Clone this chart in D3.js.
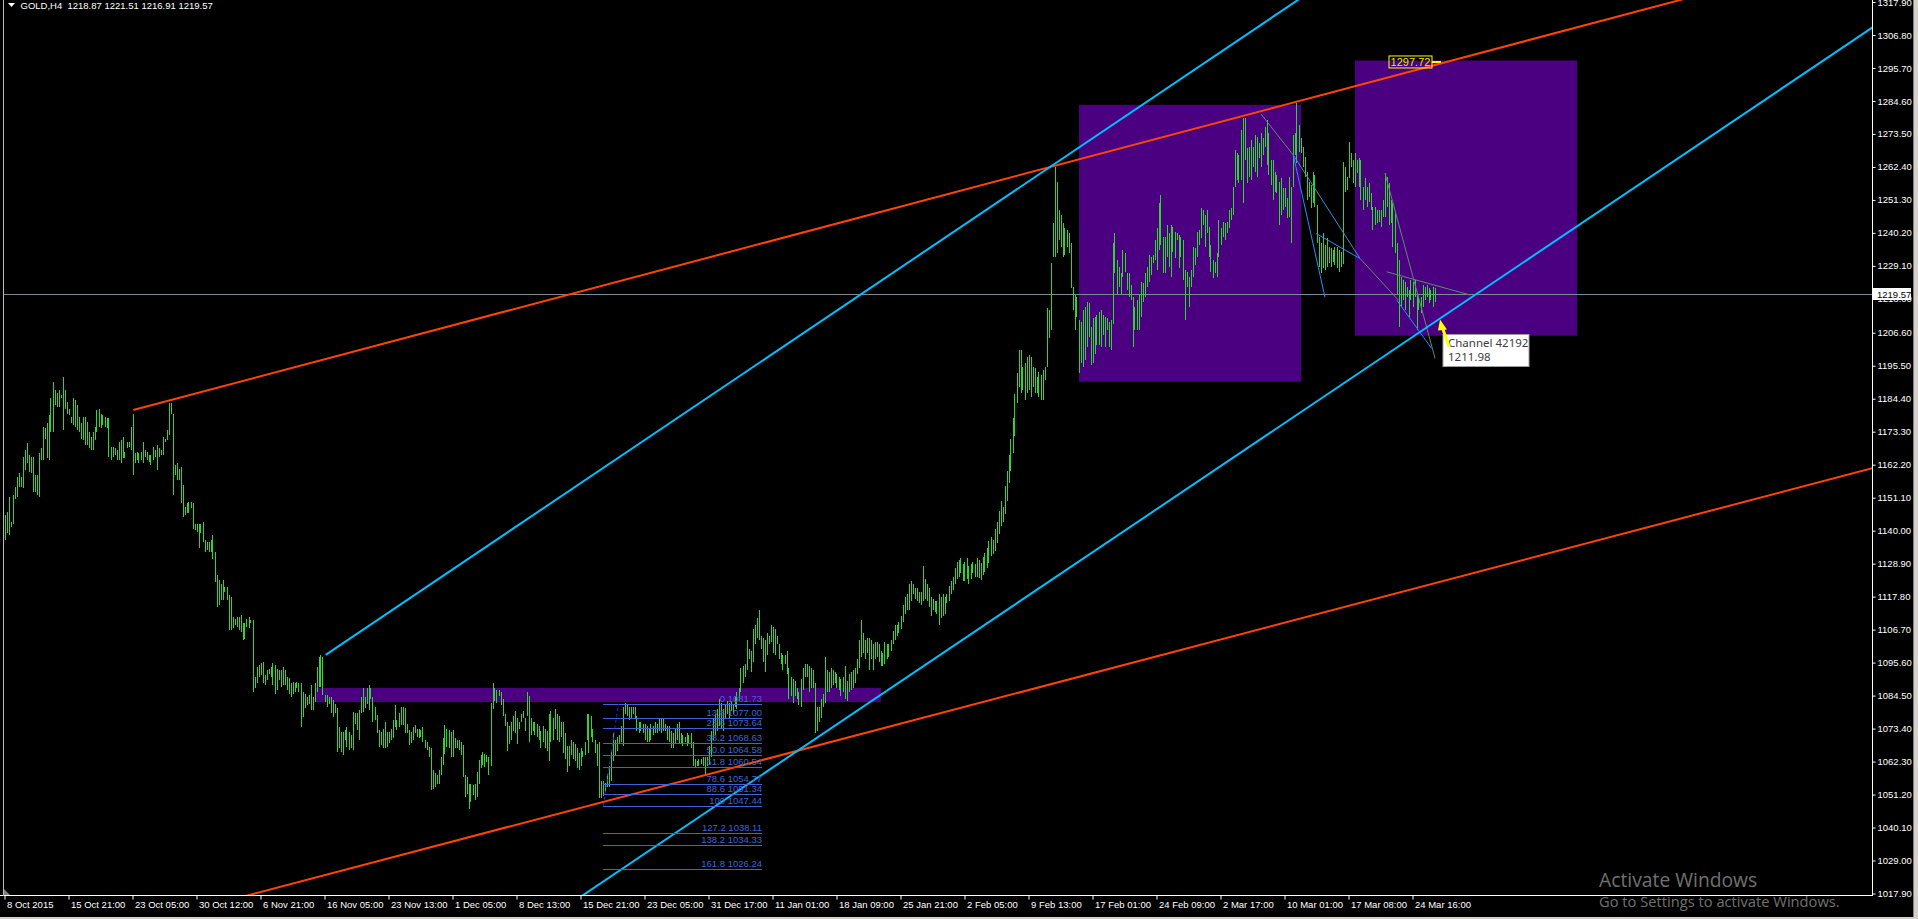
<!DOCTYPE html>
<html><head><meta charset="utf-8">
<script src="https://cdn.jsdelivr.net/npm/d3@7"></script>
<style>
html,body{margin:0;padding:0;background:#000;overflow:hidden}
svg{display:block}
</style></head><body>
<svg id="c" width="1918" height="919"></svg>
<script>
// ---------------- DATA ----------------
const chartTitle = "GOLD,H4  1218.87 1221.51 1216.91 1219.57";
const lastPrice = 1219.57;

const dateLabels = ["8 Oct 2015","15 Oct 21:00","23 Oct 05:00","30 Oct 12:00","6 Nov 21:00","16 Nov 05:00",
  "23 Nov 13:00","1 Dec 05:00","8 Dec 13:00","15 Dec 21:00","23 Dec 05:00","31 Dec 17:00","11 Jan 01:00",
  "18 Jan 09:00","25 Jan 21:00","2 Feb 05:00","9 Feb 13:00","17 Feb 01:00","24 Feb 09:00","2 Mar 17:00",
  "10 Mar 01:00","17 Mar 08:00","24 Mar 16:00"];
const dateTickBars = [0,32,64,96,128,160,192,224,256,288,320,352,384,416,448,480,512,544,576,608,640,672,704];

const priceTicks = [1317.90,1306.80,1295.70,1284.60,1273.50,1262.40,1251.30,1240.20,1229.10,1218.00,
  1206.60,1195.50,1184.40,1173.30,1162.20,1151.10,1140.00,1128.90,1117.80,1106.70,1095.60,1084.50,
  1073.40,1062.30,1051.20,1040.10,1029.00,1017.90];

// H4 bars: high / low
const barHigh = [
1145.3,1146.4,1151.4,1143.0,1152.0,1154.8,1158.1,1159.3,1158.1,1164.9,
1167.1,1169.4,1165.4,1164.9,1164.9,1158.7,1158.7,1166.0,1167.7,1175.0,
1174.4,1176.1,1178.9,1184.5,1190.1,1187.3,1186.2,1187.3,1185.6,1191.8,
1187.3,1183.4,1181.1,1178.3,1184.5,1184.0,1182.3,1178.3,1176.1,1178.3,
1178.3,1176.6,1173.3,1171.6,1173.3,1175.0,1180.6,1181.1,1179.4,1178.9,
1178.3,1177.8,1177.8,1168.2,1168.2,1167.7,1167.1,1169.9,1170.5,1171.6,
1166.5,1169.9,1169.9,1175.0,1179.4,1166.0,1166.5,1166.0,1166.5,1169.9,
1167.1,1166.5,1165.4,1165.4,1168.2,1167.1,1168.8,1167.7,1167.1,1171.6,
1171.0,1173.8,1182.8,1182.8,1179.4,1162.1,1162.6,1160.9,1161.5,1155.3,
1148.0,1149.2,1149.7,1149.7,1149.2,1142.4,1142.4,1142.4,1142.4,1143.0,
1136.8,1136.3,1136.3,1136.8,1138.5,1132.9,1125.0,1123.4,1122.2,1123.4,
1121.1,1121.1,1118.3,1117.7,1111.0,1110.4,1111.0,1111.0,1111.6,1108.8,
1108.8,1110.4,1111.0,1109.9,1109.9,1090.8,1094.2,1094.7,1095.3,1095.9,
1091.4,1093.1,1093.6,1094.2,1095.3,1094.7,1093.6,1093.1,1093.1,1094.2,
1093.1,1090.8,1090.3,1088.6,1089.1,1088.6,1089.1,1088.6,1088.6,1085.8,
1085.2,1084.1,1084.6,1088.0,1084.1,1088.6,1094.2,1097.6,1098.0,1097.6,
1084.6,1084.6,1084.1,1084.1,1083.0,1081.8,1080.2,1074.0,1072.3,1072.3,
1072.9,1074.0,1072.3,1071.2,1079.0,1078.5,1078.5,1079.6,1084.1,1086.9,
1084.1,1086.9,1088.0,1086.9,1084.1,1080.7,1077.9,1072.9,1072.3,1073.4,
1075.7,1072.3,1072.3,1073.4,1076.2,1081.3,1076.2,1078.5,1080.7,1080.7,
1080.2,1075.1,1072.9,1072.3,1074.0,1074.6,1073.4,1073.4,1072.9,1074.0,
1069.5,1068.9,1067.3,1066.7,1059.4,1058.3,1057.7,1059.4,1063.9,1070.1,
1074.6,1073.4,1072.9,1072.3,1072.9,1070.1,1069.5,1069.5,1068.9,1067.8,
1057.7,1057.2,1054.9,1054.9,1054.3,1054.9,1058.9,1062.8,1064.5,1065.6,
1065.0,1064.5,
1063.8,1082.1,1088.9,1087.2,1086.5,1086.5,1085.7,1083.5,1078.4,1075.5,
1074.1,1075.5,1077.7,1079.2,1077.0,1075.5,1078.4,1079.2,1077.0,1085.7,
1084.3,1077.0,1075.5,1075.5,1074.8,1074.1,1072.6,1074.1,1073.3,1072.6,
1078.4,1079.2,1077.0,1079.9,1078.4,1077.7,1075.5,1075.5,1071.9,1067.5,
1067.5,1069.7,1068.9,1068.2,1066.8,1065.3,1066.8,1066.0,1068.9,1078.4,
1078.4,1077.7,1073.3,1069.7,1068.2,1068.9,1055.8,1055.8,1055.1,1058.0,
1060.9,1066.0,1071.9,1069.7,1070.4,1071.1,1074.1,1080.6,1082.1,1081.3,
1080.6,1080.6,1080.6,1080.6,1077.7,1075.5,1075.5,1074.8,1074.8,1074.1,
1073.3,1074.8,1074.1,1075.5,1074.8,1077.0,1077.0,1077.0,1074.8,1074.1,
1074.1,1072.6,1071.9,1073.3,1074.8,1075.5,1071.9,1071.1,1070.4,1071.9,
1071.1,1071.9,1068.9,1063.1,1062.4,1063.1,1063.1,1063.8,1063.8,1063.8,
1067.5,1072.6,1077.0,1078.4,1079.9,1083.5,1082.1,1079.9,1081.3,1082.8,
1082.1,1082.8,1081.3,1084.3,1085.7,1087.2,1093.7,1094.5,1095.2,1103.2,
1100.3,1099.6,1106.9,1108.3,1110.5,1113.4,1104.7,1104.0,1103.2,1105.4,
1104.7,1108.3,1107.6,1106.9,1104.7,1101.8,1098.9,1098.1,1098.1,1099.6,
1093.7,1090.8,1090.1,1089.4,1087.2,1085.7,1090.1,1093.7,1095.2,1095.2,
1094.5,1093.7,1093.0,1088.6,1080.6,1080.6,1083.5,1085.0,1097.4,1093.0,
1092.3,1093.7,1093.0,1092.3,1091.6,1090.8,1090.1,1090.8,1094.5,1089.4,
1091.6,1092.3,1093.0,1093.7,1096.7,1103.2,1109.8,1105.4,1103.2,1104.0,
1104.0,1103.2,1101.8,1102.5,1102.5,1101.8,1099.6,1098.9,1102.5,1101.8,
1101.8,1103.2,1106.1,1108.3,1108.3,1109.1,1111.3,1114.9,1117.8,1118.6,
1122.2,1122.9,1122.2,1120.7,1120.7,1119.3,1119.3,1128.0,1123.7,1122.2,
1120.7,1117.8,1117.1,1116.4,1116.4,1118.6,1117.8,1118.6,1117.8,1118.6,
1121.5,1122.9,1124.4,1127.3,1129.5,1130.2,1130.9,1128.8,1129.5,1130.9,
1128.0,1128.8,1129.5,1128.8,1130.9,
1130.2,1129.0,1131.0,1132.5,1134.0,1136.5,1138.0,1137.0,1140.5,1143.0,
1146.5,1150.0,1148.0,1155.0,1160.0,1165.5,1171.0,1178.0,1186.0,
1192.9,1200.8,1200.8,1195.2,1196.3,1198.5,1199.1,1198.5,1195.2,1194.6,
1191.8,1193.5,1192.4,1194.1,1195.2,1214.8,1214.2,1230.0,1243.4,1262.5,
1257.4,1247.9,1246.2,1243.4,1241.7,1241.2,1240.1,1236.7,1222.1,1219.3,
1218.7,1210.9,1210.3,1214.2,1215.3,1217.0,1216.5,1208.6,1211.4,1212.0,
1212.6,1213.7,1214.2,1212.6,1212.0,1211.4,1210.3,1210.9,1236.7,1240.1,
1231.1,1228.8,1226.6,1234.4,1233.3,1226.6,1226.6,1222.6,1218.7,1215.3,
1217.6,1219.8,1223.8,1223.2,1226.6,1228.8,1232.8,1232.2,1232.8,1237.8,
1241.7,1250.1,1252.9,1238.9,1238.9,1242.9,1240.1,1242.9,1242.3,1240.6,
1240.1,1239.5,1238.9,1237.8,1227.7,1227.1,1225.5,1227.7,1235.6,1235.0,
1240.6,1241.2,1248.5,1247.9,1246.2,1247.9,1242.3,1236.1,1231.1,1230.5,
1233.3,1244.5,1241.7,1243.9,1243.4,1243.9,1247.9,1248.5,1255.8,1268.1,
1267.0,1266.4,1274.8,1278.8,1278.8,1268.7,1269.2,1271.5,1269.2,1273.1,
1272.6,1270.3,1273.7,1272.0,1275.9,1278.2,1273.7,1264.7,1264.7,1260.8,
1259.7,1257.4,1258.6,1255.2,1255.2,1251.8,1259.1,1255.8,1273.1,1273.7,
1283.8,1276.5,1272.0,1269.2,1265.9,1260.8,1257.4,1256.3,1260.8,1259.7,
1249.6,1238.9,1236.7,1240.1,1236.1,1238.4,1235.6,1235.0,1234.4,1235.6,
1235.6,1234.4,1233.9,1264.2,1262.5,1259.1,1270.9,1267.0,1264.7,1267.0,
1264.7,1265.3,1264.7,1255.8,1258.6,1255.8,1256.9,1253.5,1249.0,1249.0,
1247.9,1247.9,1247.9,1251.3,1260.2,1259.1,1256.9,1251.3,1250.1,1246.8,
1236.7,1231.1,1225.5,1224.3,1223.8,1222.1,1221.0,1224.3,1223.8,1224.3,
1219.3,1218.7,1218.7,1222.6,1222.1,1222.6,1221.5,1221.0,1222.1,1221.5
];
const barLow = [
1136.8,1139.1,1138.5,1141.3,1142.4,1150.8,1151.4,1154.8,1154.8,1154.2,
1160.4,1162.6,1159.8,1159.3,1153.1,1153.1,1152.0,1151.4,1163.7,1163.7,
1171.0,1164.3,1163.7,1173.3,1173.3,1182.3,1181.7,1181.7,1184.5,1173.8,
1181.1,1179.4,1178.9,1176.1,1175.5,1175.0,1173.8,1173.3,1171.0,1170.5,
1168.8,1168.8,1167.7,1167.1,1167.1,1170.5,1173.3,1175.0,1174.4,1175.5,
1175.0,1174.4,1164.9,1163.7,1164.9,1165.4,1163.7,1163.7,1162.6,1164.3,
1164.3,1167.7,1168.2,1167.1,1158.7,1162.6,1163.7,1162.6,1163.7,1162.6,
1164.9,1163.7,1163.2,1162.1,1163.7,1164.9,1160.4,1164.9,1165.4,1165.4,
1169.9,1170.5,1172.2,1179.4,1152.0,1158.7,1157.0,1157.0,1149.2,1144.7,
1145.3,1145.8,1145.8,1147.5,1140.7,1140.2,1139.6,1134.0,1139.1,1136.3,
1132.9,1133.4,1132.9,1132.9,1130.6,1122.8,1114.4,1115.0,1116.6,1116.6,
1119.4,1116.6,1106.5,1106.5,1107.1,1108.2,1107.6,1106.5,1106.0,1103.2,
1103.7,1107.6,1107.1,1108.8,1085.8,1086.9,1088.6,1090.8,1091.4,1088.6,
1088.0,1089.7,1091.9,1090.8,1088.0,1085.2,1086.3,1089.7,1087.4,1088.0,
1088.0,1086.3,1085.2,1084.1,1085.2,1085.8,1086.9,1085.8,1074.0,1077.3,
1080.2,1081.3,1081.8,1079.6,1079.6,1082.4,1085.8,1087.4,1087.4,1084.6,
1082.4,1080.7,1081.8,1078.5,1077.3,1078.5,1065.6,1066.7,1065.6,1064.5,
1069.5,1067.3,1066.1,1066.7,1066.1,1075.1,1072.9,1069.5,1078.5,1079.1,
1080.2,1081.8,1079.6,1083.5,1075.7,1076.2,1071.8,1067.3,1067.8,1066.7,
1066.7,1067.3,1068.4,1069.5,1070.1,1074.0,1072.9,1074.0,1074.6,1074.6,
1071.8,1071.8,1067.8,1068.4,1069.5,1071.8,1070.6,1070.1,1070.6,1069.0,
1066.7,1066.1,1063.9,1052.7,1053.2,1053.8,1054.9,1054.9,1057.7,1061.1,
1065.0,1067.3,1066.7,1063.9,1063.9,1066.7,1066.7,1066.1,1064.5,1057.2,
1050.4,1051.5,1046.5,1048.8,1051.0,1049.3,1050.4,1054.9,1060.0,1061.1,
1060.6,1062.2,
1057.9,1060.9,1079.9,1082.8,1082.1,1084.3,1081.3,1077.7,1074.1,1066.0,
1068.2,1069.7,1072.6,1071.9,1068.2,1073.3,1075.5,1077.0,1072.6,1077.7,
1068.9,1071.1,1072.6,1071.1,1070.4,1069.7,1066.8,1068.9,1066.8,1066.0,
1062.4,1068.9,1069.7,1073.3,1069.7,1068.9,1070.4,1065.3,1063.1,1058.7,
1060.9,1064.6,1063.1,1062.4,1060.2,1059.5,1060.9,1063.8,1064.6,1069.7,
1065.3,1070.4,1068.9,1065.3,1060.9,1050.0,1050.0,1050.7,1052.2,1053.6,
1053.6,1055.8,1062.4,1064.6,1066.0,1068.2,1068.9,1067.5,1078.4,1077.7,
1076.2,1077.0,1078.4,1077.0,1072.6,1071.9,1072.6,1071.9,1069.7,1068.9,
1068.9,1069.7,1071.1,1071.9,1071.9,1072.6,1071.9,1072.6,1072.6,1069.7,
1068.9,1066.8,1066.8,1068.2,1069.7,1068.2,1068.2,1067.5,1068.9,1067.5,
1068.2,1066.8,1060.9,1060.2,1060.9,1060.9,1061.6,1060.9,1058.0,1060.9,
1061.6,1063.8,1069.7,1071.1,1072.6,1074.1,1073.3,1072.6,1077.0,1078.4,
1077.0,1079.2,1078.4,1080.6,1079.9,1082.8,1085.7,1088.6,1090.8,1093.0,
1096.7,1092.3,1095.9,1101.8,1104.0,1103.2,1100.3,1095.9,1092.3,1098.1,
1101.8,1102.5,1098.9,1098.1,1101.8,1096.7,1095.2,1093.0,1095.2,1091.6,
1083.5,1084.3,1082.1,1084.3,1083.5,1081.3,1080.6,1086.5,1090.8,1090.8,
1085.7,1087.2,1087.2,1071.9,1072.6,1075.5,1077.0,1080.6,1082.1,1085.7,
1085.7,1087.2,1087.9,1088.6,1087.2,1086.5,1084.3,1085.7,1083.5,1082.8,
1085.7,1086.5,1087.2,1088.6,1091.6,1093.7,1097.4,1098.9,1096.7,1098.9,
1093.0,1096.7,1093.0,1096.7,1097.4,1095.9,1094.5,1094.5,1095.2,1096.7,
1097.4,1099.6,1101.8,1103.2,1104.7,1105.4,1106.9,1109.1,1112.0,1113.4,
1113.4,1116.4,1118.6,1117.1,1116.4,1115.6,1114.9,1116.4,1117.1,1116.4,
1114.2,1111.3,1113.4,1112.7,1112.0,1108.3,1110.5,1111.3,1112.0,1115.6,
1116.4,1118.6,1120.0,1122.2,1123.7,1124.4,1125.8,1122.9,1122.9,1123.7,
1122.2,1123.7,1125.8,1124.4,1124.4,
1124.0,1123.5,1125.2,1126.0,1127.5,1129.0,1131.5,1132.0,1133.0,1136.0,
1139.0,1141.5,1143.0,1145.5,1150.0,1156.0,1160.0,1166.0,1172.0,
1183.0,1188.4,1186.2,1187.3,1184.0,1186.2,1187.3,1185.0,1188.4,1186.2,
1186.2,1185.0,1184.0,1184.0,1190.7,1195.2,1204.7,1207.5,1232.2,1232.2,
1233.3,1237.8,1235.6,1232.2,1232.8,1235.6,1233.3,1221.5,1214.2,1207.5,
1212.0,1192.9,1196.3,1195.2,1197.4,1201.9,1205.3,1195.7,1196.3,1199.6,
1202.5,1202.5,1201.9,1205.8,1201.9,1207.5,1201.9,1200.8,1209.7,1226.6,
1219.8,1222.1,1219.8,1225.5,1227.1,1221.0,1218.7,1217.6,1201.9,1207.5,
1207.5,1207.5,1212.0,1217.0,1218.7,1222.1,1223.8,1226.0,1230.0,1231.1,
1227.7,1234.4,1236.1,1226.6,1226.6,1232.2,1228.8,1225.5,1233.9,1231.6,
1237.8,1228.3,1232.2,1224.3,1210.9,1222.1,1215.4,1222.1,1225.5,1229.4,
1232.2,1236.1,1238.4,1242.9,1235.6,1240.1,1232.2,1227.1,1224.9,1226.6,
1225.5,1232.2,1236.1,1238.9,1237.8,1240.1,1241.7,1244.5,1246.2,1255.8,
1258.0,1256.9,1258.0,1250.1,1264.7,1256.9,1259.1,1258.0,1262.5,1260.8,
1259.1,1265.3,1262.5,1266.4,1269.2,1263.0,1259.7,1256.3,1251.3,1254.1,
1253.5,1242.9,1246.2,1247.9,1249.0,1245.1,1245.7,1236.7,1255.8,1266.4,
1263.6,1267.5,1267.0,1262.5,1259.1,1251.3,1252.4,1248.5,1250.1,1249.0,
1236.7,1228.8,1226.6,1228.3,1227.7,1228.8,1230.0,1228.8,1230.5,1229.4,
1228.3,1227.1,1228.8,1229.9,1254.1,1254.6,1258.6,1262.5,1256.9,1255.8,
1260.2,1255.8,1251.3,1247.9,1251.3,1249.0,1250.7,1247.9,1241.2,1242.9,
1243.4,1244.0,1242.3,1245.7,1245.7,1249.0,1242.9,1243.4,1235.6,1233.3,
1219.8,1208.6,1215.4,1217.6,1214.2,1218.7,1212.0,1217.6,1215.4,1218.7,
1207.5,1214.2,1213.1,1215.4,1217.6,1218.7,1216.5,1217.6,1215.4,1216.9
];

// Fibonacci retracement
const fibLevels = ["0","13.8","23.6","38.2","50.0","61.8","78.6","88.6","100","127.2","138.2","161.8"];
const fibPrices = [1081.73,1077.00,1073.64,1068.63,1064.58,1060.54,1054.77,1051.34,1047.44,1038.11,1034.33,1026.24];
const fibBars = [299.3, 378.75];
const fibTrend = [[299.4, 1047.44],[307.0, 1081.73]];

// Rectangles: [barFrom, barTo, priceHigh, priceLow]
const zoneBand = [155.25, 438.25, 1087.1, 1082.3];
const zoneBox1 = [537.25, 648.25, 1283.3, 1190.1];
const zoneBox2 = [675.25, 786.25, 1298.2, 1205.6];

// Trend lines: two anchors [bar, price]
const orangeUpper = [[64.4, 1180.6],[646.25, 1284.4]];
const orangeLower = [[246.1, 1039.3],[933.75, 1161.0]];
const blueUpper = [[160.6, 1098.2],[521.9, 1262.0]];
const blueLower = [[337.75, 1039.3],[717.75, 1211.4]];

// thin helper lines
const thinLines = [
  {p:[[628.25,1280.2],[644.4,1266.4]], c:"#5e8a6e"},
  {p:[[644.4,1266.4],[677.75,1231.6]], c:"#3a8fd8"},
  {p:[[644.4,1266.4],[660.25,1218.5]], c:"#1e90ff"},
  {p:[[655.75,1240.0],[677.75,1231.6]], c:"#1e90ff"},
  {p:[[677.75,1231.6],[696.9,1217.6]], c:"#5e8a6e"},
  {p:[[691.1,1227.1],[732.75,1219.3]], c:"#5e8a6e"},
  {p:[[690.25,1260.2],[715.25,1198.0]], c:"#5e8a6e"},
  {p:[[696.1,1217.6],[713.6,1201.3]], c:"#1e90ff"}
];

const priceLabelValue = "1297.72";
const priceLabelAt = [713.75, 1297.72];
const channelName = "Channel 42192";
const channelValue = "1211.98";
const channelAt = [717.75, 1211.4];

// ---------------- DRAW ----------------
const svg = d3.select("#c");
svg.append("rect").attr("width",1918).attr("height",919).attr("fill","#000");

const plotL = 4, plotR = 1872, plotT = 0, plotB = 895.5;
const x = d3.scaleLinear().domain([0, 933.75]).range([4.5, 1872]);
const y = d3.scaleLinear().domain([1017.9, 1317.9]).range([893.5, 2.0]);

svg.append("defs").append("clipPath").attr("id","clip")
  .append("rect").attr("x",plotL).attr("y",plotT).attr("width",plotR-plotL).attr("height",plotB-plotT);

const g = svg.append("g").attr("clip-path","url(#clip)");

// rectangles
[zoneBand, zoneBox1, zoneBox2].forEach(r => {
  g.append("rect").attr("x", x(r[0])).attr("y", y(r[2]))
    .attr("width", x(r[1]) - x(r[0])).attr("height", y(r[3]) - y(r[2]))
    .attr("fill", "#4b0082");
});

// current price line
g.append("line").attr("x1",plotL).attr("x2",plotR)
  .attr("y1", Math.round(y(lastPrice))+0.5).attr("y2", Math.round(y(lastPrice))+0.5)
  .attr("stroke","#7a8a96").attr("stroke-width",1);

// bars
g.append("g").selectAll("line").data(barHigh).join("line")
  .attr("x1",(d,i)=>Math.round(x(i))+0.5).attr("x2",(d,i)=>Math.round(x(i))+0.5)
  .attr("y1", d => Math.round(y(d)))
  .attr("y2", (d,i) => Math.max(Math.round(y(barLow[i])), Math.round(y(d))+1))
  .attr("stroke","#2ed62e").attr("stroke-width",1).attr("shape-rendering","crispEdges");

function extLine(p, left, right) {
  const s = (p[1][1]-p[0][1])/(p[1][0]-p[0][0]);
  const a = left ? -300 : p[0][0];
  const b = right ? 1300 : p[1][0];
  return [[a, p[0][1] + s*(a-p[0][0])],[b, p[0][1] + s*(b-p[0][0])]];
}
function drawLine(pts, color, w, dash) {
  const l = g.append("line")
    .attr("x1", x(pts[0][0])).attr("y1", y(pts[0][1]))
    .attr("x2", x(pts[1][0])).attr("y2", y(pts[1][1]))
    .attr("stroke", color).attr("stroke-width", w);
  if (dash) l.attr("stroke-dasharray", dash);
  return l;
}

// thin lines
thinLines.forEach(t => drawLine(t.p, t.c, 1));

// trend lines
drawLine(extLine(orangeUpper, false, true), "#ff4500", 2);
drawLine(extLine(orangeLower, true, true), "#ff4500", 2);
drawLine(extLine(blueUpper, false, true), "#00bfff", 2);
drawLine(extLine(blueLower, true, true), "#00bfff", 2);

// fibonacci
const fibColor = "#3f63d6";
fibPrices.forEach((p, i) => {
  const yy = Math.round(y(p)) + 0.5;
  g.append("line").attr("x1", x(fibBars[0])).attr("x2", x(fibBars[1]))
    .attr("y1", yy).attr("y2", yy).attr("stroke", fibColor).attr("stroke-width", 1);
  g.append("text").attr("x", x(fibBars[1])).attr("y", yy - 3)
    .attr("text-anchor","end").attr("fill", fibColor)
    .attr("font-family","Liberation Sans, Arial, sans-serif").attr("font-size","9.5px")
    .text(fibLevels[i] + " " + p.toFixed(2));
});
drawLine(fibTrend, "#2020ff", 1, "3,3");

// price label object (1297.72)
{
  const px = x(priceLabelAt[0]), py = y(priceLabelAt[1]);
  g.append("rect").attr("x", px - 43).attr("y", py - 6).attr("width", 43).attr("height", 12)
    .attr("fill","none").attr("stroke","#ffff00").attr("stroke-width",1);
  g.append("line").attr("x1", px).attr("x2", px + 9).attr("y1", py).attr("y2", py)
    .attr("stroke","#ffff00").attr("stroke-width",2);
  g.append("text").attr("x", px - 21.5).attr("y", py + 4).attr("text-anchor","middle")
    .attr("fill","#e6e600").attr("font-family","Liberation Sans, Arial, sans-serif").attr("font-size","11px")
    .text(priceLabelValue);
}

// axes lines
svg.append("line").attr("x1", 0).attr("x2", plotR).attr("y1", 895.5).attr("y2", 895.5)
  .attr("stroke","#fff").attr("stroke-width",1);
svg.append("line").attr("x1", plotR+0.5).attr("x2", plotR+0.5).attr("y1", 0).attr("y2", 896)
  .attr("stroke","#fff").attr("stroke-width",1);

// right price axis
const yAxis = d3.axisRight(y).tickValues(priceTicks).tickFormat(d3.format(".2f")).tickSize(3).tickSizeOuter(0);
const ya = svg.append("g").attr("transform", `translate(${plotR+0.5},0)`).call(yAxis);
ya.select(".domain").remove();
ya.selectAll(".tick line").attr("stroke","#fff");
ya.selectAll(".tick text").attr("fill","#fff").attr("x",5)
  .attr("font-family","Liberation Sans, Arial, sans-serif").attr("font-size","9.5px");

// bottom date axis
const xAxis = d3.axisBottom(x).tickValues(dateTickBars)
  .tickFormat((d,i) => dateLabels[i]).tickSize(4).tickSizeOuter(0);
const xa = svg.append("g").attr("transform", `translate(0,895.5)`).call(xAxis);
xa.select(".domain").remove();
xa.selectAll(".tick line").attr("stroke","#fff");
xa.selectAll(".tick text").attr("fill","#fff").attr("text-anchor","start").attr("x",2).attr("y",6)
  .attr("font-family","Liberation Sans, Arial, sans-serif").attr("font-size","9.5px");

// current price box on axis
{
  const py = Math.round(y(lastPrice));
  svg.append("rect").attr("x", plotR+1).attr("y", py-6).attr("width", 38).attr("height", 12).attr("fill","#fff");
  svg.append("text").attr("x", plotR+5).attr("y", py+4).attr("fill","#000")
    .attr("font-family","Liberation Sans, Arial, sans-serif").attr("font-size","9.5px")
    .text(lastPrice.toFixed(2));
}

// header
svg.append("path").attr("d","M8,3 L15,3 L11.5,7 Z").attr("fill","#fff");
svg.append("text").attr("x",20.5).attr("y",9).attr("fill","#fff")
  .attr("font-family","Liberation Sans, Arial, sans-serif").attr("font-size","9.5px")
  .attr("xml:space","preserve").style("white-space","pre").text(chartTitle);

// window borders
svg.append("line").attr("x1",3.5).attr("x2",3.5).attr("y1",0).attr("y2",896).attr("stroke","#b8b8b8").attr("stroke-width",1);
svg.append("path").attr("d","M4,889 L4,895 L10,895 Z").attr("fill","#808080");
svg.append("rect").attr("x",1914).attr("y",0).attr("width",4).attr("height",919).attr("fill","#d4d0c8");
svg.append("line").attr("x1",1913.5).attr("x2",1913.5).attr("y1",0).attr("y2",917).attr("stroke","#808080");
svg.append("rect").attr("x",0).attr("y",917).attr("width",1918).attr("height",2).attr("fill","#d4d0c8");

// channel tooltip
{
  const tx = x(channelAt[0]), ty = y(channelAt[1]);
  const bx = tx + 3, by = ty + 16;
  svg.append("rect").attr("x", bx).attr("y", by).attr("width", 86).attr("height", 32)
    .attr("fill","#fff").attr("stroke","#a0a0a0").attr("stroke-width",1);
  svg.append("text").attr("x", bx + 5).attr("y", by + 13).attr("fill","#3c3c3c")
    .attr("font-family","Noto Sans, Open Sans, sans-serif").attr("font-size","11.5px").text(channelName);
  svg.append("text").attr("x", bx + 5).attr("y", by + 27).attr("fill","#3c3c3c")
    .attr("font-family","Noto Sans, Open Sans, sans-serif").attr("font-size","11.5px").text(channelValue);
  // yellow arrow
  svg.append("line").attr("x1", tx + 9).attr("y1", ty + 28).attr("x2", tx + 2).attr("y2", ty + 8)
    .attr("stroke","#ffff00").attr("stroke-width",3);
  svg.append("path").attr("d", `M${tx},${ty+1} L${tx+7},${ty+11} L${tx-2},${ty+12} Z`).attr("fill","#ffff00");
}

// watermark
svg.append("text").attr("x",1599).attr("y",887).attr("fill","rgba(255,255,255,0.45)")
  .attr("font-family","Open Sans, Noto Sans, sans-serif").attr("font-size","19.3px").text("Activate Windows");
svg.append("text").attr("x",1599).attr("y",907).attr("fill","rgba(255,255,255,0.45)")
  .attr("font-family","Open Sans, Noto Sans, sans-serif").attr("font-size","14.7px").text("Go to Settings to activate Windows.");
</script>
</body></html>
